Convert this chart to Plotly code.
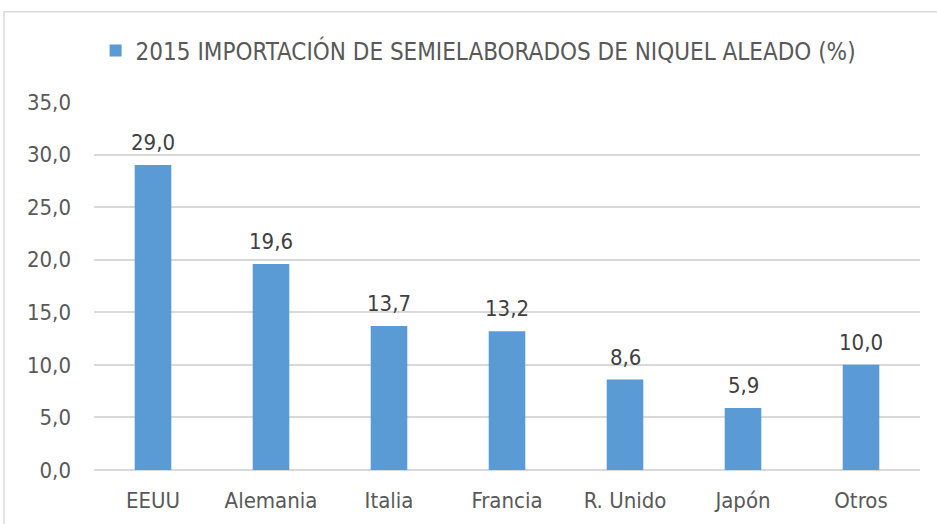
import plotly.graph_objects as go

# Data
paises = ['EEUU', 'Alemania', 'Italia', 'Francia', 'R. Unido', 'Japón', 'Otros']
importacion = [29.0, 19.6, 13.7, 13.2, 8.6, 5.9, 10.0]
serie = '2015 IMPORTACIÓN DE SEMIELABORADOS DE NIQUEL ALEADO (%)'

font_name = 'DejaVu Sans Condensed, Tahoma, sans-serif'
etiquetas = [f'{v:.1f}'.replace('.', ',') for v in importacion]

fig = go.Figure()
fig.add_trace(go.Bar(
    x=paises, y=importacion, name=serie,
    marker_color='#5B9BD5',
    showlegend=True,
))

# etiquetas de datos algo más separadas de la barra que el texto 'outside' de plotly
for p, v, t in zip(paises, importacion, etiquetas):
    fig.add_annotation(x=p, y=v, text=t, showarrow=False, yanchor='bottom', yshift=8,
                       font=dict(size=22, color='#404040', family=font_name))

fig.update_layout(
    template='none',
    width=937, height=524,
    margin=dict(l=94, r=17, t=102, b=54),
    paper_bgcolor='white', plot_bgcolor='white',
    font=dict(family=font_name, size=22, color='#595959'),
    separators=',.',
    bargap=0.69,
    legend=dict(orientation='h', x=0.465, xanchor='center', y=1.139, yanchor='middle',
                bgcolor='rgba(0,0,0,0)', font=dict(size=24, color='#595959'), itemwidth=30),
    xaxis=dict(showgrid=False, showline=False, ticks='', automargin=False,
               ticklabelstandoff=15, tickfont=dict(size=22)),
    yaxis=dict(range=[0, 35], dtick=5, tickformat='.1f', showgrid=True, gridcolor='#D9D9D9',
               gridwidth=1.5, zeroline=True, zerolinecolor='#D9D9D9', zerolinewidth=1.5,
               showline=False, ticks='', automargin=False, ticklabelstandoff=22,
               tickfont=dict(size=22)),
    shapes=[dict(type='rect', xref='paper', yref='paper', x0=-0.109, x1=1.05, y0=-0.3, y1=1.245,
                 line=dict(color='#D9D9D9', width=1.5), fillcolor='rgba(0,0,0,0)', layer='below')],
)

# quitar el margen por defecto del body para que la figura empiece en (0, 0)
fig.write_html('out.html', config={'displayModeBar': False},
               post_script="document.body.style.margin='0';")
